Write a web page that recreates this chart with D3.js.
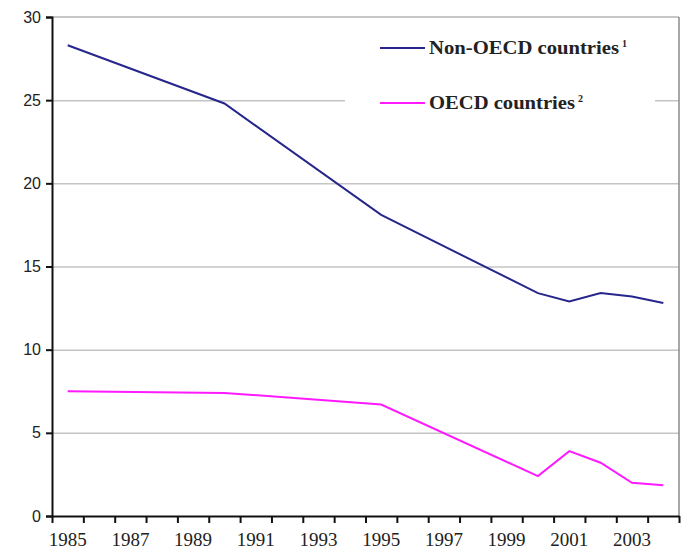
<!DOCTYPE html>
<html>
<head>
<meta charset="utf-8">
<script src="https://cdn.jsdelivr.net/npm/d3@7"></script>
<style>
  body { margin: 0; background: #fff; }
  .ylab text { font-family: "Liberation Sans", Arial, sans-serif; font-size: 16px; fill: #222; }
  .xlab text { font-family: "Liberation Serif", "Times New Roman", serif; font-size: 19px; fill: #222; }
  .legend text { font-family: "Liberation Serif", "Times New Roman", serif; font-size: 18px; font-weight: bold; fill: #222; }
  .legend text.sup { font-size: 10px; }
</style>
</head>
<body>
<div id="Chart"></div>
<script>
// data (only years with a marked value)
var years = d3.range(1985, 2005);
var nonOecd = [28.3, null, null, null, null, 24.8, null, null, null, null,
               18.1, null, null, null, null, 13.4, 12.9, 13.4, 13.2, 12.8];
var oecd    = [7.5, null, null, null, null, 7.4, null, null, null, null,
               6.7, null, null, null, null, 2.4, 3.9, 3.2, 2.0, 1.85];
var yTicks = [0, 5, 10, 15, 20, 25, 30];
var xLabels = [1985, 1987, 1989, 1991, 1993, 1995, 1997, 1999, 2001, 2003];

var margin = { top: 17, right: 5, bottom: 36, left: 52 };
var width = 684 - margin.left - margin.right;
var height = 552 - margin.top - margin.bottom;

var svg = d3.select("#Chart")
    .append("svg")
    .attr("width", 684)
    .attr("height", 552)
    .append("g")
    .attr("transform", "translate(" + margin.left + "," + margin.top + ")");

var x = d3.scaleBand()
    .domain(years)
    .range([0, width])
    .padding(0);

var xEdge = d3.scaleLinear()
    .domain([0, years.length])
    .range([0, width]);

var y = d3.scaleLinear()
    .domain([0, 30])
    .range([height, 0]);

// gridlines
svg.append("g")
    .attr("class", "grid")
    .call(d3.axisLeft(y).tickValues([5, 10, 15, 20, 25]).tickFormat("").tickSize(-width))
    .call(function(g) { g.select(".domain").remove(); })
    .selectAll("line")
    .attr("stroke", "#c4c4c4")
    .attr("stroke-width", 1.5);

// top and right border
svg.append("line")
    .attr("x1", 0).attr("x2", width)
    .attr("y1", y(30)).attr("y2", y(30))
    .attr("stroke", "#b4b4b4").attr("stroke-width", 1.5);
svg.append("line")
    .attr("x1", width).attr("x2", width)
    .attr("y1", y(30)).attr("y2", height)
    .attr("stroke", "#8a8a8a").attr("stroke-width", 1.5);

// legend background hides the gridline
svg.append("rect")
    .attr("x", 345 - margin.left)
    .attr("y", 22 - margin.top)
    .attr("width", 310)
    .attr("height", 100)
    .attr("fill", "#fff");

// y axis
svg.append("g")
    .attr("class", "ylab")
    .call(d3.axisLeft(y).tickValues(yTicks).tickSize(6).tickPadding(5))
    .call(function(g) {
      g.select(".domain").attr("stroke", "#111").attr("stroke-width", 2);
      g.selectAll("line").attr("stroke", "#111").attr("stroke-width", 2);
    });

// x axis ticks at category edges
svg.append("g")
    .attr("transform", "translate(0," + height + ")")
    .call(d3.axisBottom(xEdge).tickValues(d3.range(0, years.length + 1)).tickFormat("").tickSize(7).tickSizeOuter(0))
    .call(function(g) {
      g.select(".domain").attr("stroke", "#111").attr("stroke-width", 2);
      g.selectAll("line").attr("stroke", "#111").attr("stroke-width", 2);
    });

// x labels
svg.append("g")
    .attr("class", "xlab")
    .attr("transform", "translate(0," + height + ")")
    .call(d3.axisBottom(x).tickValues(xLabels).tickSize(0).tickPadding(17))
    .call(function(g) { g.select(".domain").remove(); });

var line = d3.line()
    .x(function(d) { return x(d.year) + x.bandwidth() / 2; })
    .y(function(d) { return y(d.value); });

function series(vals) {
  return years.map(function(yr, i) { return { year: yr, value: vals[i] }; })
              .filter(function(d) { return d.value != null; });
}

svg.append("path")
    .datum(series(oecd))
    .attr("fill", "none")
    .attr("stroke", "#ff1aff")
    .attr("stroke-width", 2)
    .attr("d", line);

svg.append("path")
    .datum(series(nonOecd))
    .attr("fill", "none")
    .attr("stroke", "#26268c")
    .attr("stroke-width", 2)
    .attr("d", line);

// legend
var legend = svg.append("g").attr("class", "legend");
var legendItems = [
  { label: "Non-OECD countries", sup: "1", color: "#26268c", y: 48, len: 190 },
  { label: "OECD countries", sup: "2", color: "#ff1aff", y: 103, len: 146 }
];
legendItems.forEach(function(d) {
  legend.append("line")
      .attr("x1", 380 - margin.left).attr("x2", 425 - margin.left)
      .attr("y1", d.y - margin.top).attr("y2", d.y - margin.top)
      .attr("stroke", d.color).attr("stroke-width", 2);
  legend.append("text")
      .attr("x", 429 - margin.left)
      .attr("y", d.y - margin.top + 6)
      .attr("textLength", d.len)
      .attr("lengthAdjust", "spacingAndGlyphs")
      .text(d.label);
  legend.append("text")
      .attr("class", "sup")
      .attr("x", 429 - margin.left + d.len + 3)
      .attr("y", d.y - margin.top - 1)
      .text(d.sup);
});
</script>
</body>
</html>
